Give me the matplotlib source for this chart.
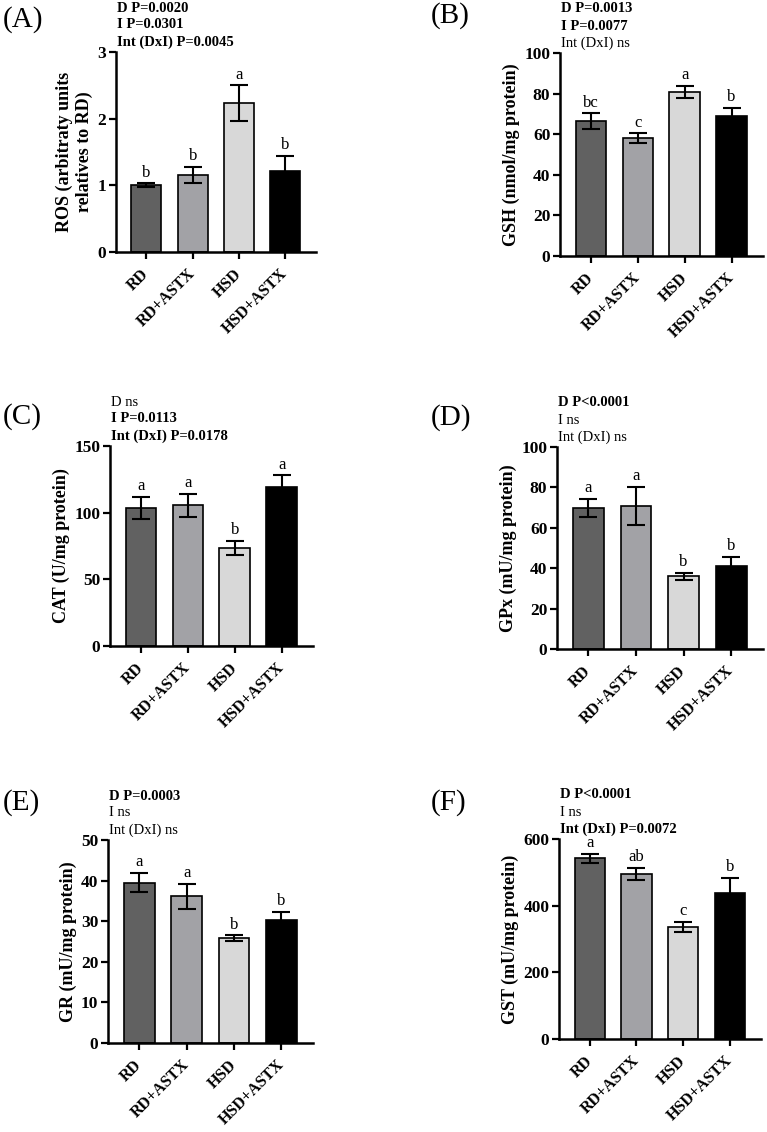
import matplotlib
matplotlib.use("Agg")
import matplotlib.pyplot as plt

plt.rcParams['font.family'] = ['Liberation Serif', 'DejaVu Serif']

# grupos y colores de barra
groups = ["RD", "RD+ASTX", "HSD", "HSD+ASTX"]
bar_colors = ["#616161", "#a2a2a6", "#d8d8d8", "#000000"]

# (A) ROS
ros_mean = [1.00, 1.16, 2.23, 1.22]
ros_err = [0.03, 0.12, 0.27, 0.22]
ros_letters = ["b", "b", "a", "b"]
ros_stats = [("D P=0.0020", True), ("I P=0.0301", True), ("Int (DxI) P=0.0045", True)]

# (B) GSH
gsh_mean = [66.4, 58.0, 80.9, 69.0]
gsh_err = [3.9, 2.4, 3.0, 4.1]
gsh_letters = ["bc", "c", "a", "b"]
gsh_stats = [("D P=0.0013", True), ("I P=0.0077", True), ("Int (DxI) ns", False)]

# (C) CAT
cat_mean = [103.8, 105.6, 73.4, 119.5]
cat_err = [8.2, 8.6, 5.5, 8.5]
cat_letters = ["a", "a", "b", "a"]
cat_stats = [("D ns", False), ("I P=0.0113", True), ("Int (DxI) P=0.0178", True)]

# (D) GPx
gpx_mean = [69.7, 70.8, 36.1, 41.2]
gpx_err = [4.6, 9.4, 1.7, 4.3]
gpx_letters = ["a", "a", "b", "b"]
gpx_stats = [("D P<0.0001", True), ("I ns", False), ("Int (DxI) ns", False)]

# (E) GR
gr_mean = [39.5, 36.1, 25.8, 30.2]
gr_err = [2.4, 3.0, 0.7, 2.0]
gr_letters = ["a", "a", "b", "b"]
gr_stats = [("D P=0.0003", True), ("I ns", False), ("Int (DxI) ns", False)]

# (F) GST
gst_mean = [542, 495, 337, 439]
gst_err = [14, 19, 15, 44]
gst_letters = ["a", "ab", "c", "b"]
gst_stats = [("D P<0.0001", True), ("I ns", False), ("Int (DxI) P=0.0072", True)]

W, H = 767, 1132
fig = plt.figure(figsize=(W / 100, H / 100), dpi=100)

# (etiqueta, ylabel, medias, errores, letras, stats, yticks, caja en px: izq, der, arriba, abajo, pos etiqueta)
panels = [
    ("(A)", "ROS (arbitraty units\nrelatives to RD)", ros_mean, ros_err, ros_letters, ros_stats,
     [0, 1, 2, 3], (116, 316, 52, 252), (3, 20)),
    ("(B)", "GSH (nmol/mg protein)", gsh_mean, gsh_err, gsh_letters, gsh_stats,
     [0, 20, 40, 60, 80, 100], (560, 763, 53, 256), (431, 16)),
    ("(C)", "CAT (U/mg protein)", cat_mean, cat_err, cat_letters, cat_stats,
     [0, 50, 100, 150], (110, 313, 446, 646), (3, 417)),
    ("(D)", "GPx (mU/mg protein)", gpx_mean, gpx_err, gpx_letters, gpx_stats,
     [0, 20, 40, 60, 80, 100], (557, 763, 447, 649), (431, 418)),
    ("(E)", "GR (mU/mg protein)", gr_mean, gr_err, gr_letters, gr_stats,
     [0, 10, 20, 30, 40, 50], (108, 313, 840, 1043), (3, 803)),
    ("(F)", "GST (mU/mg protein)", gst_mean, gst_err, gst_letters, gst_stats,
     [0, 200, 400, 600], (559, 761, 839, 1039), (431, 803)),
]

x = list(range(len(groups)))

for label, ylabel, mean, err, letters, stats, yticks, box, lab_pos in panels:
    l, r, t, b = box
    ax = fig.add_axes([l / W, 1 - b / H, (r - l) / W, (b - t) / H])
    ax.bar(x, mean, width=0.65, color=bar_colors, edgecolor="black", linewidth=1.2, zorder=2)
    ax.errorbar(x, mean, yerr=err, fmt="none", ecolor="black", elinewidth=1.5,
                capsize=6.5, capthick=1.5, zorder=3)
    for xi, m, e, let in zip(x, mean, err, letters):
        ax.annotate(let, (xi, m + e), xytext=(0, 2), textcoords="offset points",
                    ha="center", va="bottom", fontsize=12)
    ax.set_xlim(-0.66, 3.67)
    ax.set_ylim(0, yticks[-1])
    ax.set_yticks(yticks)
    ax.set_xticks(x)
    ax.set_xticklabels(groups, rotation=45, ha="right", va="center",
                       rotation_mode="anchor", fontweight="bold", fontsize=11.5)
    ax.tick_params(axis="x", pad=9)
    ax.tick_params(axis="y", pad=2)
    for tl in ax.get_yticklabels():
        tl.set_fontweight("bold")
        tl.set_fontsize(12.5)
    ax.set_ylabel(ylabel, fontweight="bold", fontsize=13, labelpad=3)
    ax.spines["top"].set_visible(False)
    ax.spines["right"].set_visible(False)
    ax.spines["left"].set_linewidth(1.8)
    ax.spines["bottom"].set_linewidth(1.8)
    ax.tick_params(direction="out", length=5, width=1.6)

    # texto de valores P sobre el eje
    for i, (txt, bold) in enumerate(stats):
        yline = t - 44 + i * 17
        fig.text((l + 1) / W, 1 - yline / H, txt, ha="left", va="center",
                 fontsize=10.5, fontweight="bold" if bold else "normal")

    fig.text(lab_pos[0] / W, 1 - lab_pos[1] / H, label, ha="left", va="center", fontsize=21)

fig.savefig("out.png", dpi=100, facecolor="white")
